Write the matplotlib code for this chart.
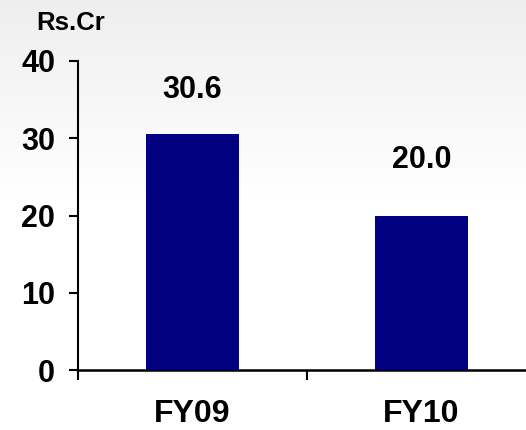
import numpy as np
import matplotlib
matplotlib.use("Agg")
import matplotlib.pyplot as plt

categories = ["FY09", "FY10"]
values = [30.6, 20.0]
value_labels = ["30.6", "20.0"]
y_ticks = [0, 10, 20, 30, 40]
unit_label = "Rs.Cr"

# vertical gap (points) between each bar top and the baseline of its label
label_gaps = [26, 34]

plt.rcParams["font.family"] = ["Liberation Sans", "DejaVu Sans"]
plt.rcParams["font.weight"] = "bold"

fig = plt.figure(figsize=(5.26, 4.30), dpi=100)

# soft grey-to-white background wash
bg = fig.add_axes([0, 0, 1, 1], zorder=-10)
shade = np.concatenate([np.linspace(0.935, 1.0, 200), np.ones(230)])
img = np.repeat(shade[:, None, None], 3, axis=2)
bg.imshow(img, aspect="auto", extent=[0, 1, 0, 1], origin="upper",
          interpolation="bilinear")
bg.set_xlim(0, 1)
bg.set_ylim(0, 1)
bg.set_axis_off()

ax = fig.add_axes([78 / 526, 60 / 430, 458 / 526, 309 / 430])
ax.patch.set_alpha(0)
x = np.arange(len(categories))
ax.bar(x, values, width=0.41, color="#000080", zorder=3)

for xi, v, lab, gap in zip(x, values, value_labels, label_gaps):
    ax.annotate(lab, (xi, v), xytext=(0, gap), textcoords="offset points",
                ha="center", va="baseline", fontsize=22, fontweight="bold")

ax.set_xlim(-0.5, len(categories) - 0.5)
ax.set_ylim(0, 40)
ax.set_yticks(y_ticks)
ax.set_yticklabels([str(t) for t in y_ticks], fontsize=22, fontweight="bold")
ax.set_xticks(x)
ax.set_xticklabels(categories, fontsize=23, fontweight="bold")
ax.set_xticks(np.arange(-0.5, len(categories)), minor=True)
ax.tick_params(axis="x", which="major", length=0, pad=21)
ax.tick_params(axis="x", which="minor", length=7, width=1.5, direction="out")
ax.tick_params(axis="y", length=6.5, width=1.5, direction="out", pad=10)

for s in ["top", "right"]:
    ax.spines[s].set_visible(False)
ax.spines["left"].set_linewidth(1.5)
ax.spines["bottom"].set_linewidth(1.8)

fig.text(71 / 526, 1 - 23 / 430, unit_label, fontsize=18.5, fontweight="bold",
         ha="center", va="center")

fig.savefig("out.png", dpi=100)
